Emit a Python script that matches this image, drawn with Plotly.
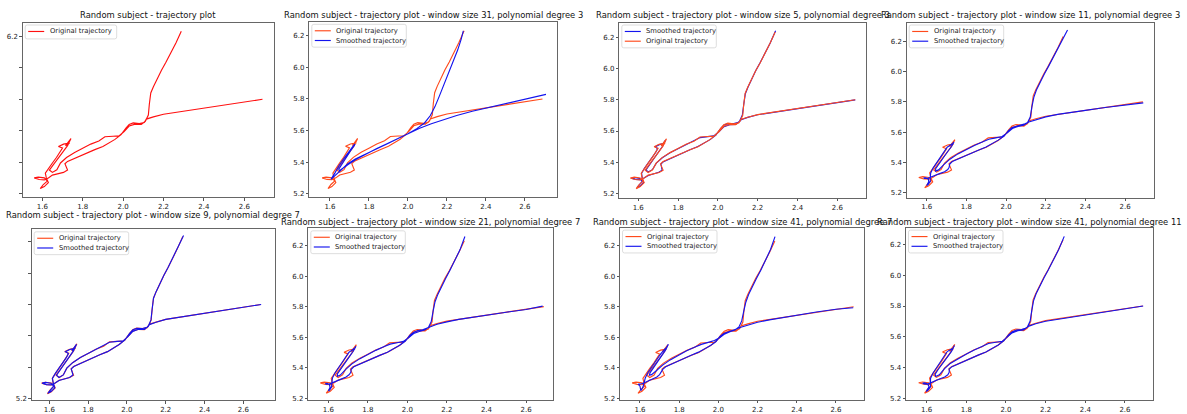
import plotly.graph_objects as go

W, H = 1187, 414

# ---------------- data ----------------
TITLES = [
    "Random subject - trajectory plot",
    "Random subject - trajectory plot - window size 31, polynomial degree 3",
    "Random subject - trajectory plot - window size 5, polynomial degree 3",
    "Random subject - trajectory plot - window size 11, polynomial degree 3",
    "Random subject - trajectory plot - window size 9, polynomial degree 7",
    "Random subject - trajectory plot - window size 21, polynomial degree 7",
    "Random subject - trajectory plot - window size 41, polynomial degree 7",
    "Random subject - trajectory plot - window size 41, polynomial degree 11",
]
X_TICKS = [1.6, 1.8, 2.0, 2.2, 2.4, 2.6]
X_TICK_TEXT = ["1.6", "1.8", "2.0", "2.2", "2.4", "2.6"]
Y_TICKS = [5.2, 5.4, 5.6, 5.8, 6.0, 6.2]
Y_TICK_TEXT = ["5.2", "5.4", "5.6", "5.8", "6.0", "6.2"]
Y_TICK_TEXT_FIRST = ["", "", "", "", "", "6.2"]
Y_TICK_TEXT_FIFTH = ["5.2", "", "", "", "", ""]

ORIGINAL_X = [2.690, 2.600, 2.500, 2.400, 2.330, 2.260, 2.200, 2.150, 2.115, 2.105,
              2.080, 2.050, 2.030, 2.015, 1.990, 1.960, 1.930, 1.900, 1.860, 1.820,
              1.780, 1.750, 1.725, 1.712, 1.718, 1.725, 1.705, 1.675, 1.650, 1.630,
              1.610, 1.585, 1.560, 1.580, 1.610, 1.625, 1.605, 1.590, 1.610, 1.630,
              1.620, 1.615, 1.630, 1.650, 1.670, 1.690, 1.700, 1.680, 1.705, 1.735,
              1.715, 1.742, 1.725, 1.705, 1.680, 1.655, 1.635, 1.650, 1.672, 1.690,
              1.720, 1.760, 1.800, 1.840, 1.880, 1.910, 1.950, 1.980, 2.005, 2.030,
              2.060, 2.090, 2.110, 2.125, 2.130, 2.137, 2.150, 2.170, 2.190, 2.212,
              2.237, 2.262, 2.288]
ORIGINAL_Y = [5.800, 5.783, 5.765, 5.745, 5.733, 5.720, 5.705, 5.688, 5.674, 5.652,
              5.646, 5.650, 5.640, 5.618, 5.575, 5.545, 5.522, 5.500, 5.480, 5.458,
              5.437, 5.420, 5.405, 5.390, 5.370, 5.350, 5.335, 5.328, 5.318, 5.300,
              5.288, 5.290, 5.300, 5.305, 5.300, 5.280, 5.258, 5.232, 5.245, 5.270,
              5.300, 5.330, 5.360, 5.395, 5.430, 5.465, 5.490, 5.500, 5.515, 5.522,
              5.505, 5.550, 5.505, 5.470, 5.430, 5.385, 5.350, 5.335, 5.352, 5.395,
              5.430, 5.462, 5.488, 5.515, 5.535, 5.562, 5.565, 5.567, 5.595, 5.630,
              5.642, 5.640, 5.660, 5.700, 5.770, 5.840, 5.880, 5.935, 5.985, 6.035,
              6.095, 6.160, 6.232]

SMOOTH_W31_D3 = [
    (2.708, 5.829), (2.620, 5.805), (2.520, 5.778), (2.420, 5.750), (2.330, 5.722),
    (2.250, 5.695), (2.180, 5.668), (2.120, 5.643), (2.060, 5.615), (2.010, 5.588),
    (1.960, 5.556), (1.900, 5.520), (1.840, 5.486), (1.780, 5.452), (1.730, 5.420),
    (1.690, 5.388), (1.660, 5.355), (1.635, 5.325), (1.615, 5.300), (1.605, 5.290),
    (1.610, 5.300), (1.625, 5.330), (1.645, 5.375), (1.670, 5.420), (1.695, 5.465),
    (1.715, 5.495), (1.728, 5.515), (1.725, 5.505), (1.705, 5.470), (1.680, 5.425),
    (1.658, 5.385), (1.645, 5.355), (1.648, 5.345), (1.665, 5.358), (1.695, 5.386),
    (1.735, 5.418), (1.785, 5.452), (1.840, 5.486), (1.895, 5.518), (1.950, 5.550),
    (2.000, 5.580), (2.045, 5.612), (2.085, 5.648), (2.115, 5.695), (2.138, 5.750),
    (2.160, 5.815), (2.185, 5.890), (2.210, 5.965), (2.235, 6.040), (2.255, 6.110),
    (2.272, 6.175), (2.284, 6.232)]

SMOOTH_W5_D3 = [
    (2.690, 5.799), (2.600, 5.782), (2.500, 5.764), (2.400, 5.745), (2.330, 5.732),
    (2.260, 5.719), (2.200, 5.704), (2.150, 5.687), (2.117, 5.672), (2.104, 5.655),
    (2.080, 5.648), (2.052, 5.647), (2.031, 5.638), (2.014, 5.616), (1.990, 5.574),
    (1.961, 5.545), (1.930, 5.522), (1.900, 5.501), (1.860, 5.480), (1.820, 5.458),
    (1.781, 5.438), (1.751, 5.420), (1.727, 5.404), (1.714, 5.389), (1.716, 5.369),
    (1.720, 5.350), (1.703, 5.336), (1.675, 5.327), (1.651, 5.316), (1.629, 5.300),
    (1.609, 5.289), (1.585, 5.291), (1.566, 5.299), (1.581, 5.303), (1.607, 5.297),
    (1.620, 5.279), (1.605, 5.258), (1.594, 5.238), (1.609, 5.247), (1.627, 5.271),
    (1.620, 5.300), (1.617, 5.330), (1.631, 5.361), (1.650, 5.395), (1.670, 5.430),
    (1.688, 5.464), (1.697, 5.487), (1.686, 5.500), (1.706, 5.513), (1.730, 5.521),
    (1.720, 5.510), (1.738, 5.543), (1.724, 5.506), (1.704, 5.470), (1.680, 5.430),
    (1.656, 5.386), (1.639, 5.352), (1.650, 5.338), (1.671, 5.353), (1.691, 5.395),
    (1.721, 5.429), (1.760, 5.461), (1.800, 5.488), (1.840, 5.514), (1.880, 5.537),
    (1.911, 5.558), (1.949, 5.564), (1.980, 5.569), (2.005, 5.595), (2.031, 5.628),
    (2.060, 5.641), (2.089, 5.642), (2.109, 5.662), (2.123, 5.703), (2.130, 5.770),
    (2.138, 5.838), (2.151, 5.880), (2.170, 5.935), (2.190, 5.985), (2.212, 6.036),
    (2.237, 6.096), (2.263, 6.162), (2.290, 6.240)]

SMOOTH_W11_D3 = [
    (2.692, 5.793), (2.600, 5.781), (2.500, 5.763), (2.400, 5.744), (2.330, 5.731),
    (2.260, 5.717), (2.200, 5.701), (2.150, 5.683), (2.115, 5.667), (2.095, 5.655),
    (2.075, 5.648), (2.052, 5.642), (2.030, 5.630), (2.012, 5.610), (1.990, 5.574),
    (1.961, 5.547), (1.930, 5.523), (1.899, 5.501), (1.860, 5.480), (1.821, 5.459),
    (1.783, 5.439), (1.752, 5.421), (1.729, 5.405), (1.716, 5.388), (1.713, 5.368),
    (1.706, 5.352), (1.690, 5.338), (1.668, 5.327), (1.645, 5.314), (1.623, 5.300),
    (1.603, 5.293), (1.588, 5.294), (1.585, 5.298), (1.595, 5.298), (1.608, 5.290),
    (1.610, 5.272), (1.603, 5.255), (1.600, 5.247), (1.608, 5.255), (1.618, 5.275),
    (1.618, 5.300), (1.620, 5.330), (1.632, 5.362), (1.650, 5.397), (1.670, 5.432),
    (1.688, 5.465), (1.697, 5.488), (1.703, 5.500), (1.714, 5.510), (1.726, 5.518),
    (1.733, 5.527), (1.737, 5.535), (1.725, 5.505), (1.705, 5.470), (1.682, 5.430),
    (1.660, 5.390), (1.645, 5.358), (1.645, 5.342), (1.660, 5.350), (1.686, 5.385),
    (1.717, 5.421), (1.757, 5.456), (1.799, 5.486), (1.840, 5.512), (1.880, 5.535),
    (1.913, 5.553), (1.948, 5.562), (1.980, 5.571), (2.006, 5.595), (2.032, 5.624),
    (2.060, 5.638), (2.088, 5.645), (2.108, 5.662), (2.122, 5.700), (2.130, 5.765),
    (2.140, 5.830), (2.153, 5.878), (2.172, 5.932), (2.193, 5.985), (2.216, 6.040),
    (2.242, 6.103), (2.270, 6.175), (2.292, 6.232), (2.310, 6.275)]

SMOOTH_W9_D7 = [
    (2.692, 5.800), (2.600, 5.783), (2.500, 5.764), (2.400, 5.745), (2.330, 5.733),
    (2.260, 5.719), (2.200, 5.705), (2.150, 5.687), (2.116, 5.672), (2.103, 5.654),
    (2.080, 5.647), (2.051, 5.648), (2.031, 5.639), (2.014, 5.616), (1.990, 5.575),
    (1.960, 5.546), (1.930, 5.522), (1.900, 5.500), (1.860, 5.480), (1.820, 5.458),
    (1.780, 5.438), (1.750, 5.420), (1.726, 5.405), (1.713, 5.390), (1.717, 5.370),
    (1.722, 5.351), (1.704, 5.335), (1.675, 5.327), (1.650, 5.317), (1.630, 5.300),
    (1.609, 5.289), (1.585, 5.290), (1.563, 5.300), (1.580, 5.304), (1.608, 5.299),
    (1.622, 5.280), (1.605, 5.258), (1.592, 5.235), (1.609, 5.246), (1.628, 5.270),
    (1.620, 5.300), (1.616, 5.330), (1.630, 5.360), (1.650, 5.395), (1.670, 5.430),
    (1.689, 5.465), (1.698, 5.488), (1.683, 5.500), (1.705, 5.514), (1.732, 5.521),
    (1.717, 5.507), (1.740, 5.547), (1.724, 5.505), (1.705, 5.470), (1.680, 5.430),
    (1.655, 5.385), (1.637, 5.351), (1.650, 5.336), (1.672, 5.352), (1.690, 5.395),
    (1.720, 5.430), (1.760, 5.462), (1.800, 5.488), (1.840, 5.515), (1.880, 5.536),
    (1.910, 5.560), (1.950, 5.565), (1.981, 5.568), (2.005, 5.596), (2.030, 5.629),
    (2.060, 5.642), (2.090, 5.641), (2.110, 5.661), (2.124, 5.702), (2.130, 5.770),
    (2.137, 5.840), (2.150, 5.880), (2.170, 5.935), (2.190, 5.985), (2.212, 6.035),
    (2.237, 6.096), (2.263, 6.162), (2.292, 6.238)]

SMOOTH_W21_D7 = [
    (2.684, 5.803), (2.600, 5.781), (2.500, 5.763), (2.400, 5.745), (2.330, 5.731),
    (2.260, 5.716), (2.200, 5.700), (2.150, 5.684), (2.117, 5.668), (2.097, 5.656),
    (2.077, 5.648), (2.053, 5.643), (2.032, 5.632), (2.013, 5.612), (1.990, 5.574),
    (1.961, 5.546), (1.930, 5.523), (1.899, 5.501), (1.860, 5.480), (1.821, 5.459),
    (1.783, 5.439), (1.752, 5.421), (1.729, 5.405), (1.716, 5.389), (1.714, 5.369),
    (1.705, 5.353), (1.690, 5.338), (1.668, 5.326), (1.645, 5.313), (1.624, 5.300),
    (1.605, 5.292), (1.590, 5.292), (1.585, 5.296), (1.594, 5.297), (1.606, 5.289),
    (1.609, 5.271), (1.603, 5.254), (1.601, 5.246), (1.608, 5.254), (1.617, 5.275),
    (1.618, 5.301), (1.621, 5.331), (1.633, 5.363), (1.651, 5.398), (1.671, 5.433),
    (1.689, 5.466), (1.699, 5.489), (1.705, 5.501), (1.716, 5.511), (1.728, 5.520),
    (1.736, 5.530), (1.740, 5.540), (1.726, 5.507), (1.706, 5.470), (1.683, 5.430),
    (1.661, 5.390), (1.646, 5.359), (1.646, 5.343), (1.661, 5.351), (1.687, 5.387),
    (1.718, 5.423), (1.758, 5.457), (1.800, 5.487), (1.840, 5.513), (1.880, 5.536),
    (1.913, 5.554), (1.948, 5.563), (1.980, 5.572), (2.006, 5.596), (2.032, 5.623),
    (2.060, 5.637), (2.087, 5.646), (2.107, 5.664), (2.121, 5.703), (2.130, 5.768),
    (2.140, 5.832), (2.154, 5.880), (2.173, 5.933), (2.194, 5.985), (2.216, 6.040),
    (2.241, 6.102), (2.266, 6.172), (2.291, 6.259)]

SMOOTH_W41_D7 = [
    (2.688, 5.794), (2.600, 5.784), (2.500, 5.766), (2.400, 5.745), (2.330, 5.730),
    (2.260, 5.714), (2.200, 5.698), (2.150, 5.681), (2.115, 5.666), (2.092, 5.654),
    (2.070, 5.645), (2.048, 5.637), (2.028, 5.625), (2.008, 5.605), (1.988, 5.572),
    (1.960, 5.546), (1.930, 5.524), (1.899, 5.502), (1.861, 5.481), (1.823, 5.460),
    (1.786, 5.441), (1.755, 5.423), (1.731, 5.406), (1.716, 5.389), (1.709, 5.370),
    (1.700, 5.354), (1.686, 5.339), (1.666, 5.326), (1.645, 5.313), (1.625, 5.302),
    (1.608, 5.294), (1.595, 5.291), (1.590, 5.290), (1.594, 5.287), (1.600, 5.278),
    (1.603, 5.265), (1.603, 5.254), (1.604, 5.250), (1.609, 5.257), (1.616, 5.276),
    (1.621, 5.302), (1.627, 5.332), (1.639, 5.365), (1.656, 5.400), (1.675, 5.435),
    (1.693, 5.467), (1.706, 5.491), (1.715, 5.507), (1.725, 5.520), (1.735, 5.532),
    (1.742, 5.545), (1.745, 5.554), (1.730, 5.515), (1.709, 5.474), (1.686, 5.433),
    (1.665, 5.395), (1.651, 5.366), (1.648, 5.350), (1.659, 5.354), (1.683, 5.380),
    (1.714, 5.415), (1.754, 5.451), (1.796, 5.483), (1.838, 5.511), (1.878, 5.534),
    (1.913, 5.553), (1.948, 5.566), (1.980, 5.578), (2.008, 5.598), (2.033, 5.622),
    (2.059, 5.636), (2.085, 5.648), (2.105, 5.668), (2.119, 5.707), (2.129, 5.768),
    (2.140, 5.830), (2.154, 5.880), (2.173, 5.933), (2.194, 5.986), (2.217, 6.042),
    (2.242, 6.105), (2.266, 6.176), (2.289, 6.261)]

SMOOTH_W41_D11 = [
    (2.692, 5.800), (2.600, 5.782), (2.500, 5.764), (2.400, 5.745), (2.330, 5.731),
    (2.260, 5.717), (2.200, 5.701), (2.150, 5.685), (2.116, 5.669), (2.098, 5.655),
    (2.078, 5.647), (2.053, 5.644), (2.032, 5.633), (2.013, 5.612), (1.990, 5.574),
    (1.961, 5.546), (1.930, 5.523), (1.899, 5.501), (1.860, 5.480), (1.821, 5.459),
    (1.782, 5.439), (1.752, 5.421), (1.728, 5.405), (1.714, 5.389), (1.714, 5.369),
    (1.707, 5.352), (1.691, 5.337), (1.668, 5.326), (1.646, 5.314), (1.625, 5.300),
    (1.605, 5.291), (1.588, 5.292), (1.580, 5.297), (1.590, 5.300), (1.606, 5.292),
    (1.612, 5.273), (1.604, 5.254), (1.598, 5.243), (1.607, 5.251), (1.619, 5.273),
    (1.619, 5.300), (1.620, 5.330), (1.632, 5.362), (1.650, 5.397), (1.670, 5.432),
    (1.689, 5.466), (1.699, 5.489), (1.702, 5.500), (1.713, 5.511), (1.728, 5.519),
    (1.733, 5.524), (1.740, 5.543), (1.726, 5.506), (1.706, 5.470), (1.682, 5.430),
    (1.659, 5.388), (1.643, 5.356), (1.646, 5.341), (1.664, 5.352), (1.689, 5.390),
    (1.719, 5.426), (1.760, 5.459), (1.801, 5.488), (1.840, 5.514), (1.880, 5.536),
    (1.912, 5.556), (1.949, 5.564), (1.981, 5.570), (2.006, 5.597), (2.031, 5.625),
    (2.060, 5.639), (2.088, 5.644), (2.108, 5.663), (2.122, 5.702), (2.130, 5.768),
    (2.139, 5.834), (2.152, 5.880), (2.171, 5.934), (2.192, 5.985), (2.214, 6.037),
    (2.240, 6.100), (2.266, 6.168), (2.294, 6.254)]

# ---------------- styles / layout ----------------
RED = "#ff1010"
ORANGE = "#ff4a1c"
BLUE = "#1414ee"
LINE_W = 1.15
FONT = "DejaVu Sans"

ORIG = list(zip(ORIGINAL_X, ORIGINAL_Y))
O_NAME = "Original trajectory"
S_NAME = "Smoothed trajectory"

PANELS = [
    dict(box=(22.7, 22.7, 274.0, 198.7), xr=(1.503, 2.747), yr=(5.177, 6.288), ty=15.0,
         ytext=Y_TICK_TEXT_FIRST, series=[(O_NAME, ORIG, RED)]),
    dict(box=(309.3, 22.0, 556.7, 198.7), xr=(1.494, 2.763), yr=(5.177, 6.289), ty=15.0,
         ytext=Y_TICK_TEXT, series=[(O_NAME, ORIG, ORANGE), (S_NAME, SMOOTH_W31_D3, BLUE)]),
    dict(box=(619.3, 22.7, 866.0, 199.3), xr=(1.505, 2.744), yr=(5.173, 6.293), ty=15.0,
         ytext=Y_TICK_TEXT, series=[(S_NAME, SMOOTH_W5_D3, BLUE), (O_NAME, ORIG, ORANGE)]),
    dict(box=(906.7, 22.7, 1154.0, 199.0), xr=(1.499, 2.746), yr=(5.167, 6.325), ty=15.0,
         ytext=Y_TICK_TEXT, series=[(O_NAME, ORIG, ORANGE), (S_NAME, SMOOTH_W11_D3, BLUE)]),
    dict(box=(31.7, 231.0, 275.3, 403.3), xr=(1.509, 2.765), yr=(5.190, 6.278), ty=216.7,
         ytext=Y_TICK_TEXT_FIFTH, series=[(O_NAME, ORIG, ORANGE), (S_NAME, SMOOTH_W9_D7, BLUE)]),
    dict(box=(308.3, 230.0, 553.3, 403.0), xr=(1.499, 2.738), yr=(5.187, 6.313), ty=224.0,
         ytext=Y_TICK_TEXT, series=[(O_NAME, ORIG, ORANGE), (S_NAME, SMOOTH_W21_D7, BLUE)]),
    dict(box=(620.0, 229.3, 864.0, 403.0), xr=(1.498, 2.743), yr=(5.187, 6.320), ty=224.0,
         ytext=Y_TICK_TEXT, series=[(O_NAME, ORIG, ORANGE), (S_NAME, SMOOTH_W41_D7, BLUE)]),
    dict(box=(906.0, 229.3, 1153.3, 403.0), xr=(1.496, 2.743), yr=(5.187, 6.311), ty=224.0,
         ytext=Y_TICK_TEXT, series=[(O_NAME, ORIG, ORANGE), (S_NAME, SMOOTH_W41_D11, BLUE)]),
]


def fx(px):
    return px / W


def fy(py):
    return 1 - py / H


def rounded_rect(l, t, r, b, rad=2.0):
    pts = [
        f"M{fx(l + rad)},{fy(t)}", f"L{fx(r - rad)},{fy(t)}", f"Q{fx(r)},{fy(t)} {fx(r)},{fy(t + rad)}",
        f"L{fx(r)},{fy(b - rad)}", f"Q{fx(r)},{fy(b)} {fx(r - rad)},{fy(b)}",
        f"L{fx(l + rad)},{fy(b)}", f"Q{fx(l)},{fy(b)} {fx(l)},{fy(b - rad)}",
        f"L{fx(l)},{fy(t + rad)}", f"Q{fx(l)},{fy(t)} {fx(l + rad)},{fy(t)}", "Z",
    ]
    return " ".join(pts)


fig = go.Figure()
layout = dict(
    width=W, height=H, margin=dict(l=0, r=0, t=0, b=0),
    paper_bgcolor="white", plot_bgcolor="white", showlegend=False,
    font=dict(family=FONT, size=7, color="#222"),
)
shapes, annotations = [], []

for i, p in enumerate(PANELS):
    k = "" if i == 0 else str(i + 1)
    l, t, r, b = p["box"]
    axis_common = dict(
        showgrid=False, zeroline=False, showline=True, mirror=True,
        linecolor="#666", linewidth=0.8, ticks="outside", ticklen=2.5,
        tickwidth=0.8, tickcolor="#555", tickfont=dict(family=FONT, size=7, color="#222"),
    )
    layout["xaxis" + k] = dict(
        axis_common, domain=[fx(l), fx(r)], range=list(p["xr"]), anchor="y" + k,
        tickmode="array", tickvals=X_TICKS, ticktext=X_TICK_TEXT,
    )
    layout["yaxis" + k] = dict(
        axis_common, domain=[fy(b), fy(t)], range=list(p["yr"]), anchor="x" + k,
        tickmode="array", tickvals=Y_TICKS, ticktext=p["ytext"],
    )
    for name, pts, color in p["series"]:
        xs = [q[0] for q in pts]
        ys = [q[1] for q in pts]
        fig.add_trace(go.Scatter(
            x=xs, y=ys, mode="lines", name=name,
            line=dict(color=color, width=LINE_W),
            xaxis="x" + k, yaxis="y" + k, hoverinfo="skip",
        ))
    # title
    annotations.append(dict(
        text=TITLES[i], xref="paper", yref="paper", x=fx((l + r) / 2), y=fy(p["ty"]),
        xanchor="center", yanchor="middle", showarrow=False,
        font=dict(family=FONT, size=8.4, color="#111"),
    ))
    # legend (drawn like matplotlib's upper-left legend)
    n = len(p["series"])
    box_l, box_t = l + 2.5, t + 2.5
    box_r = l + (94 if n == 1 else 97)
    box_b = t + (16.5 if n == 1 else 25.5)
    shapes.append(dict(
        type="path", path=rounded_rect(box_l, box_t, box_r, box_b), xref="paper", yref="paper",
        line=dict(color="#d4d4d4", width=0.8), fillcolor="rgba(255,255,255,0.85)", layer="above",
    ))
    for j, (name, pts, color) in enumerate(p["series"]):
        ey = t + 9.0 + 9.8 * j
        shapes.append(dict(
            type="line", xref="paper", yref="paper",
            x0=fx(l + 5.5), x1=fx(l + 21.5), y0=fy(ey), y1=fy(ey),
            line=dict(color=color, width=LINE_W), layer="above",
        ))
        annotations.append(dict(
            text=name, xref="paper", yref="paper", x=fx(l + 25.0), y=fy(ey),
            xanchor="left", yanchor="middle", showarrow=False,
            font=dict(family=FONT, size=6.8, color="#222"),
        ))

layout["shapes"] = shapes
layout["annotations"] = annotations
fig.update_layout(**layout)
fig.write_html("out.html")
